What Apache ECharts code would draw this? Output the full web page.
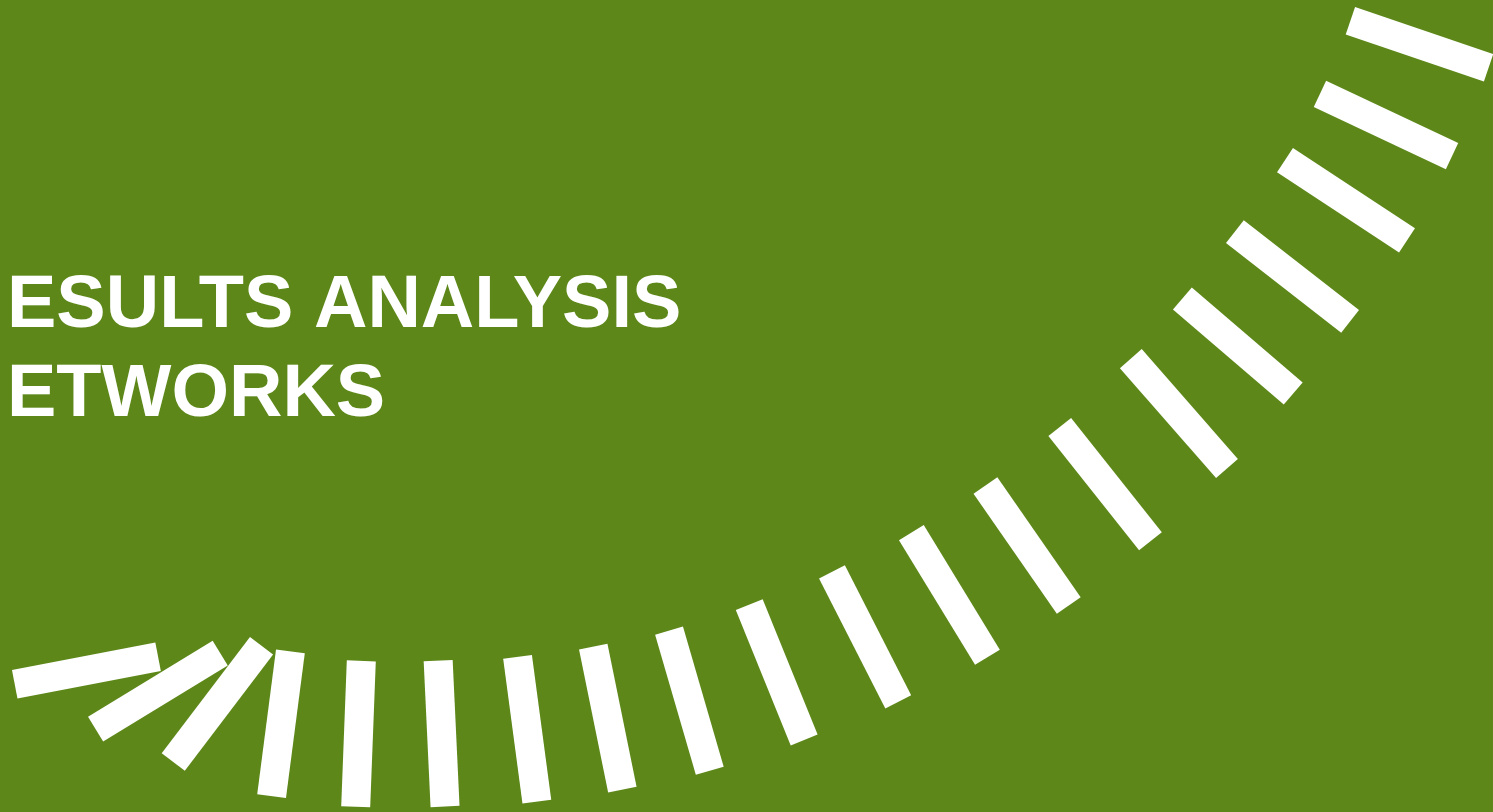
<!DOCTYPE html>
<html><head><meta charset="utf-8">
<script src="https://cdn.jsdelivr.net/npm/echarts@6/dist/echarts.min.js"></script>
<style>html,body{margin:0;padding:0;background:#5d8819;}#c{width:1493px;height:812px;}</style>
</head><body><div id="c"></div>
<script>
// Bar centres (x, y) and rotation (degrees, counter-clockwise)
const barX = [86.4, 157.9, 217.4, 281.0, 358.5, 441.6, 527.2, 607.8, 689.4, 776.7, 865.1, 949.4, 1027.1, 1105.1, 1178.9, 1237.8, 1292.5, 1346.0, 1386.0, 1419.5];
const barY = [670.5, 691.2, 703.9, 723.8, 733.8, 733.6, 729.2, 718.1, 700.7, 672.3, 636.9, 594.9, 545.5, 484.1, 413.6, 345.9, 276.5, 200.2, 125.0, 44.2];
const barAngle = [10.9, 31.4, 52.8, 82.6, 87.8, 92.7, 97.6, 101.5, 106.2, 112.1, 117.0, 121.4, 124.8, 128.4, 131.2, 139.4, 142.1, 146.7, 154.8, 161.2];
const titleLines = ['ESULTS ANALYSIS', 'ETWORKS'];

const chart = echarts.init(document.getElementById('c'));
const data = barX.map((x, i) => ({ value: [x, barY[i]], symbolRotate: barAngle[i] }));
chart.setOption({
  backgroundColor: '#5d8819',
  animation: false,
  title: {
    text: titleLines.join('\n'),
    left: 2,
    top: 257,
    textStyle: { color: '#ffffff', fontFamily: 'Liberation Sans', fontWeight: 'bold', fontSize: 74, lineHeight: 89 }
  },
  grid: { left: 0, right: 0, top: 0, bottom: 0 },
  xAxis: { type: 'value', min: 0, max: 1493, show: false },
  yAxis: { type: 'value', min: 0, max: 812, inverse: true, show: false },
  series: [{
    type: 'scatter',
    symbol: 'rect',
    symbolSize: [146, 29],
    itemStyle: { color: '#ffffff', opacity: 1 },
    emphasis: { disabled: true },
    data: data
  }]
});
</script></body></html>
